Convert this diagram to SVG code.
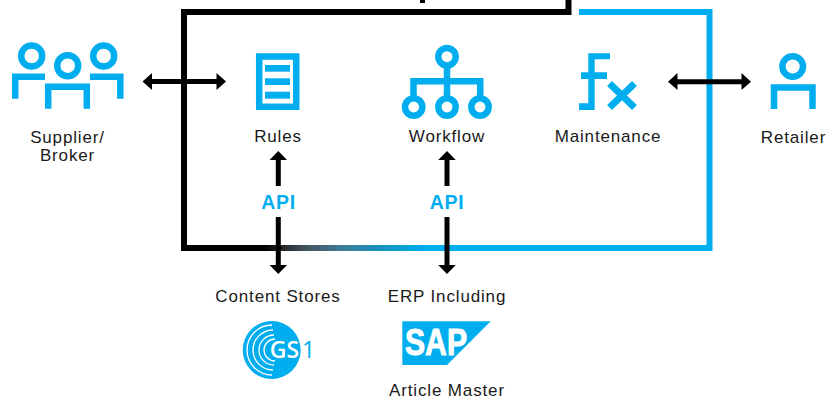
<svg xmlns="http://www.w3.org/2000/svg" width="828" height="398" viewBox="0 0 828 398">
<style>
text{font-family:"Liberation Sans",Arial,sans-serif;font-size:17px;letter-spacing:.85px;fill:#1a1a1a;text-anchor:middle}
.api{font-weight:700;font-size:19.5px;fill:#00aeef;letter-spacing:.7px}
.ic{fill:none;stroke:#00aeef;stroke-width:6.5}
.fl{fill:#00aeef}
.bk{fill:none;stroke:#000;stroke-width:6}
.ar{fill:none;stroke:#000;stroke-width:5}
.hd{fill:#000}
.arc{fill:none;stroke:#fff;stroke-width:1.3}
</style>
<defs>
<linearGradient id="fade" gradientUnits="userSpaceOnUse" x1="265" y1="0" x2="425" y2="0">
<stop offset="0" stop-color="#000"/><stop offset=".08" stop-color="#1c1c1e"/><stop offset=".25" stop-color="#44525c"/><stop offset=".47" stop-color="#3f7c98"/><stop offset=".8" stop-color="#0a9ac8"/><stop offset="1" stop-color="#00aeef"/>
</linearGradient>
</defs>
<rect width="828" height="398" fill="#fff"/>
<g id="connectors">
<path class="bk" d="M568.500 0V12H184V248H268"/>
<rect x="420" y="0" width="5" height="3" fill="#000"/>
<path class="bk" style="stroke:#00aeef" d="M579 12H709.500V248H420"/>
<rect x="265" y="245" width="160" height="6" fill="url(#fade)"/>
<g id="arrow-supplier"><path class="ar" d="M150 81.500H219"/><path class="hd" d="M142.500 81.500L152 73V90ZM226 81.500L216.500 73V90Z"/></g>
<g id="arrow-retailer"><path class="ar" d="M675 81.700H744"/><path class="hd" d="M668 81.700L677.500 73V90ZM751 81.700L741.500 73V90Z"/></g>
<g id="arrow-rules"><path class="ar" d="M278.300 158V186M278.300 217V267"/><path class="hd" d="M278.300 151L269.500 160H287ZM278.300 274L269.500 265H287Z"/></g>
<g id="arrow-workflow"><path class="ar" d="M447 158V186M447 217V267"/><path class="hd" d="M447 151L438.200 160H455.800ZM447 274L438.200 265H455.800Z"/></g>
</g>
<g id="supplier">
<circle class="ic" cx="31.700" cy="56" r="10.500"/><circle class="ic" cx="67.700" cy="65.700" r="10.500"/><circle class="ic" cx="103.700" cy="56" r="10.500"/>
<path class="ic" d="M15.200 98.700V76.700H45M48.200 108.700V86.700H86.800V108.700M90 76.700H120.300V98.700"/>
<text x="67.500" y="143">Supplier/</text><text x="67.500" y="161">Broker</text>
</g>
<g id="rules">
<rect x="259.200" y="56.500" width="37" height="50.300" class="ic"/>
<rect class="fl" x="265" y="65" width="25" height="6.700"/><rect class="fl" x="265" y="78.300" width="25" height="6.700"/><rect class="fl" x="265" y="91.700" width="25" height="7"/>
<text x="278" y="142">Rules</text>
</g>
<g id="workflow">
<circle class="ic" cx="447" cy="56.700" r="8.700"/><circle class="ic" cx="413.700" cy="107" r="8.700"/><circle class="ic" cx="447" cy="107" r="8.700"/><circle class="ic" cx="480" cy="107" r="8.700"/>
<path class="ic" d="M447 66V98M413.500 96V81.300H480.200V96"/>
<text x="447" y="142">Workflow</text>
</g>
<g id="maintenance">
<path class="fl" d="M588.300 53.300H610V59.300H594.700V72.300H607V79H594.700V110H579V103.300H588.300V79H581V72.300H588.300Z"/>
<path class="ic" style="stroke-width:7" d="M609.500 83.500L634.500 107.500M634.500 83.500L609.500 107.500"/>
<text x="608" y="142">Maintenance</text>
</g>
<g id="retailer">
<circle class="ic" cx="792.700" cy="66.500" r="10.300"/>
<path class="ic" d="M774 109V87.500H812.500V109"/>
<text x="793.500" y="143">Retailer</text>
</g>
<g id="api-labels"><text class="api" x="278.500" y="209">API</text><text class="api" x="447" y="209">API</text></g>
<g id="content-stores">
<text x="278" y="302">Content Stores</text>
<circle cx="271.700" cy="350" r="29" class="fl"/>
<path class="arc" d="M272 325A25 25 0 0 0 272 375M273 330A20 20 0 0 0 273 370M274 335A15 15 0 0 0 274 365M275 339A11 11 0 0 0 275 361"/>
<text x="284.500" y="358" style="font-family:'Open Sans',sans-serif;font-weight:600;font-size:23px;letter-spacing:0;fill:#fff">GS</text>
<text x="308.500" y="358" style="font-family:'Open Sans',sans-serif;font-size:23px;letter-spacing:0;fill:#00aeef">1</text>
</g>
<g id="erp">
<text x="447" y="302">ERP Including</text>
<path class="fl" d="M402.300 321.300H490.700L447 365H402.300Z"/>
<text x="405" y="355" textLength="62" lengthAdjust="spacingAndGlyphs" style="font-weight:700;font-size:37px;letter-spacing:0;text-anchor:start;fill:#fff;stroke:#fff;stroke-width:1">SAP</text>
<text x="460.700" y="364" style="font-size:7px;font-weight:700;letter-spacing:0;fill:#fff">®</text>
<text x="447" y="396">Article Master</text>
</g>
</svg>
